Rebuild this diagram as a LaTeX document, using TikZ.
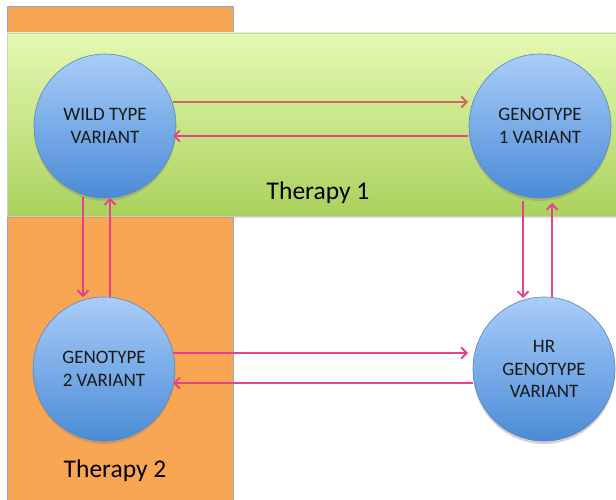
\documentclass[tikz,border=0pt]{standalone}
\usepackage{fontspec}
\setmainfont{Carlito}
\usetikzlibrary{arrows.meta,shadows,calc,shapes.geometric}
\definecolor{bluetop}{HTML}{A9CDF8}
\definecolor{bluebot}{HTML}{4A8BD6}
\definecolor{blueedge}{HTML}{5A85BE}
\definecolor{greentop}{HTML}{E4FAB3}
\definecolor{greenbot}{HTML}{ABD15D}
\definecolor{orangefill}{HTML}{F8A654}
\definecolor{pinkarr}{HTML}{E8418B}
\definecolor{salmonarr}{HTML}{D5675D}
\tikzset{
  variant/.style={ellipse, draw=blueedge, line width=0.6pt, top color=bluetop, bottom color=bluebot,
    minimum width=142pt, minimum height=144pt, inner sep=0pt, align=center,
    font=\fontsize{19}{22.5}\selectfont, text=black!90,
    drop shadow={shadow xshift=0pt, shadow yshift=-3pt, opacity=0.35}},
  conn/.style={line width=2.1pt, draw=pinkarr, -{Straight Barb[length=5.5pt,width=11pt,line width=1.8pt]}},
  connB/.style={conn, draw=salmonarr},
  therapy/.style={font=\fontsize{25.5}{30}\selectfont, anchor=base, text=black}
}
\begin{document}
\begin{tikzpicture}[x=1pt,y=-1pt]
\useasboundingbox (0,0) rectangle (616,500);
\fill[white] (0,0) rectangle (616,500);
% orange column
\path[fill=orangefill, draw=blueedge!70, line width=0.6pt] (7,6) rectangle (233,502);
% green band
\path[top color=greentop, bottom color=greenbot, draw=black!20, line width=0.6pt,
  drop shadow={shadow xshift=0pt, shadow yshift=-2pt, opacity=0.25}] (7,33) rectangle (620,216);
% labels
\node[therapy] (t1) at (318,200) {Therapy 1};
\node[therapy] (t2) at (115,477) {Therapy 2};
% nodes
\node[variant] (wt) at (105,126) {WILD TYPE\\VARIANT};
\node[variant] (g1) at (540,126) {GENOTYPE\\1 VARIANT};
\node[variant] (g2) at (104,369) {GENOTYPE\\2 VARIANT};
\node[variant] (hr) at (544,369) {HR\\GENOTYPE\\VARIANT};
% connectors
\draw[connB] ([shift={(68,-24)}]wt.center) -- ([shift={(-72,-24)}]g1.center);
\draw[conn] ([shift={(-72,10)}]g1.center) -- ([shift={(68,10)}]wt.center);
\draw[conn] ([shift={(-22,71)}]wt.center) -- ([shift={(-21,-72)}]g2.center);
\draw[conn] ([shift={(6,-72)}]g2.center) -- ([shift={(5,72)}]wt.center);
\draw[conn] ([shift={(-17,75)}]g1.center) -- ([shift={(-21,-71)}]hr.center);
\draw[conn] ([shift={(8,-72)}]hr.center) -- ([shift={(12,77)}]g1.center);
\draw[conn] ([shift={(69,-16)}]g2.center) -- ([shift={(-76,-16)}]hr.center);
\draw[conn] ([shift={(-71,14)}]hr.center) -- ([shift={(69,14)}]g2.center);
\end{tikzpicture}
\end{document}
